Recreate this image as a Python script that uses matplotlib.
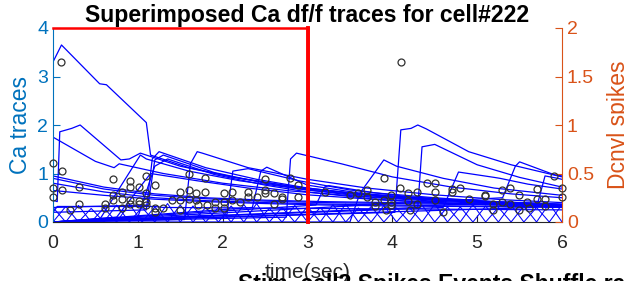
import matplotlib
matplotlib.use("Agg")
import matplotlib.pyplot as plt
import numpy as np

plt.rcParams['font.family'] = ['Liberation Sans', 'DejaVu Sans']

# ---------------- data ----------------
title_text = "Superimposed Ca df/f traces for cell#222"
next_title = "Stim_cell2 Spikes Events Shuffle raster"
x_ticks = [0, 1, 2, 3, 4, 5, 6]
left_ticks = [0, 1, 2, 3, 4]
right_ticks = [0, 0.5, 1, 1.5, 2]
right_tick_labels = ["0", "0.5", "1", "1.5", "2"]

# Ca traces (time in sec, df/f)
t_a = [0, 0.1, 0.55, 0.63, 1.1, 1.15, 1.6, 2.2, 3.0, 3.8, 4.6, 5.4, 6.0]
v_a = [3.3, 3.65, 2.85, 2.83, 2.05, 1.38, 1.12, 0.9, 0.68, 0.55, 0.46, 0.4, 0.36]
t_b = [0, 0.05, 0.08, 0.22, 0.32, 0.8, 0.9, 1.03, 1.5, 2.1, 2.8, 3.5, 4.3, 5.2, 6.0]
v_b = [0.45, 0.42, 1.86, 1.93, 2.0, 1.28, 1.3, 1.42, 1.15, 0.93, 0.74, 0.6, 0.5, 0.42, 0.37]
t_c = [0, 0.5, 0.72, 0.78, 1.3, 2.0, 2.8, 3.6, 4.4, 5.2, 6.0]
v_c = [1.75, 1.25, 1.12, 1.2, 1.0, 0.8, 0.64, 0.53, 0.46, 0.4, 0.35]
t_d = [0, 1.55, 1.62, 1.7, 1.76, 2.3, 2.45, 3.0, 3.7, 4.5, 5.3, 6.0]
v_d = [0.0, 0.05, 1.2, 1.45, 1.42, 1.12, 1.07, 0.88, 0.7, 0.56, 0.46, 0.4]
t_e = [0, 2.75, 2.8, 2.87, 3.4, 4.0, 4.7, 5.4, 6.0]
v_e = [0.0, 0.1, 1.3, 1.42, 1.2, 0.93, 0.72, 0.58, 0.5]
t_f = [0, 4.03, 4.1, 4.22, 4.3, 4.4, 4.9, 5.4, 6.0]
v_f = [0.0, 0.2, 1.9, 1.93, 2.0, 1.92, 1.45, 1.18, 0.93]
t_g = [0, 4.3, 4.35, 4.5, 5.0, 5.5, 6.0]
v_g = [0.0, 0.3, 1.55, 1.6, 1.18, 0.92, 0.72]
t_h = [0, 3.5, 3.62, 3.9, 4.05, 4.6, 5.2, 6.0]
v_h = [0.0, 0.0, 0.6, 1.28, 1.15, 0.9, 0.7, 0.55]
t_i = [0, 1.1, 1.17, 1.25, 1.8, 2.4, 3.0, 3.8, 4.6, 5.4, 6.0]
v_i = [0.2, 0.25, 1.3, 1.45, 1.12, 0.88, 0.7, 0.54, 0.44, 0.38, 0.34]
t_j = [0, 1.12, 1.2, 1.3, 1.9, 2.5, 3.0, 3.8, 4.6, 5.4, 6.0]
v_j = [0.3, 0.35, 1.28, 1.38, 1.02, 0.8, 0.66, 0.5, 0.42, 0.36, 0.32]
t_k = [0, 1.0, 1.2, 1.35, 1.9, 2.5, 3.0, 3.8, 4.6, 5.4, 6.0]
v_k = [0.0, 0.1, 1.15, 1.3, 0.98, 0.76, 0.62, 0.47, 0.39, 0.34, 0.3]
t_l = [0, 2.05, 2.12, 2.3, 2.9, 3.5, 4.2, 5.0, 6.0]
v_l = [0.0, 0.15, 1.05, 1.1, 0.85, 0.66, 0.52, 0.42, 0.35]
t_m = [0, 2.35, 2.45, 2.52, 3.0, 3.6, 4.3, 5.1, 6.0]
v_m = [0.0, 0.3, 1.05, 1.13, 0.76, 0.6, 0.48, 0.4, 0.34]
t_n = [0, 0.6, 1.2, 1.8, 2.5, 3.2, 4.0, 4.8, 5.5, 6.0]
v_n1 = [0.95, 0.72, 0.58, 0.5, 0.45, 0.42, 0.4, 0.38, 0.36, 0.35]
v_n2 = [0.9, 0.68, 0.55, 0.48, 0.43, 0.4, 0.38, 0.36, 0.35, 0.34]
v_n3 = [0.8, 0.62, 0.5, 0.44, 0.4, 0.37, 0.35, 0.33, 0.32, 0.31]
v_n4 = [0.65, 0.55, 0.47, 0.42, 0.38, 0.35, 0.33, 0.32, 0.31, 0.3]
t_o = [0, 0.05, 1.2, 1.3, 2.2, 3.0, 4.0, 5.0, 6.0]
v_o = [0.2, 0.32, 0.32, 0.3, 0.29, 0.28, 0.27, 0.26, 0.25]
t_p = [0, 4.6, 4.78, 5.2, 5.27, 5.6, 6.0]
v_p = [0.0, 0.3, 1.03, 0.92, 0.9, 0.78, 0.68]
t_q = [0, 5.3, 5.45, 5.5, 5.9, 6.0]
v_q = [0.0, 0.5, 1.15, 1.24, 0.98, 0.95]
t_r = [0, 5.7, 5.8, 5.95, 6.0]
v_r = [0.0, 0.3, 0.95, 0.9, 0.88]
t_s = [0, 3.1, 3.2, 3.25, 3.8, 4.5, 5.2, 6.0]
v_s = [0.0, 0.35, 0.72, 0.75, 0.6, 0.5, 0.42, 0.36]
t_u = [0, 0.55, 1.03, 1.1, 1.6, 2.2, 3.0, 3.8, 4.6, 5.4, 6.0]
v_u = [0.0, 0.05, 1.38, 1.3, 1.05, 0.85, 0.66, 0.53, 0.45, 0.39, 0.35]
t_w = [0, 0.75, 1.15, 1.7, 2.3, 3.0, 4.0, 5.0, 6.0]
v_w = [0.0, 0.1, 1.0, 0.85, 0.7, 0.56, 0.44, 0.37, 0.33]

# small zig-zag transients near baseline
zz_t = [0.0, 0.15, 0.3, 0.45, 0.6, 0.75, 0.9, 1.05, 1.2, 1.35,
        1.5, 1.65, 1.8, 1.95, 2.1, 2.25, 2.4, 2.55, 2.7, 2.85,
        3.0, 3.15, 3.3, 3.45, 3.6, 3.75, 3.9, 4.05, 4.2, 4.35,
        4.5, 4.65, 4.8, 4.95, 5.1, 5.25, 5.4, 5.55, 5.7, 5.85, 6.0]
zz1_v = [0, 0.32, 0, 0.28, 0, 0.35, 0, 0.3, 0, 0.38,
         0, 0.33, 0, 0.3, 0, 0.36, 0, 0.28, 0, 0.34,
         0, 0.3, 0, 0.37, 0, 0.32, 0, 0.29, 0, 0.35,
         0, 0.31, 0, 0.36, 0, 0.3, 0, 0.33, 0, 0.38, 0]
zz2_v = [0.3, 0, 0.34, 0, 0.29, 0, 0.37, 0, 0.31, 0,
         0.35, 0, 0.3, 0, 0.33, 0, 0.38, 0, 0.3, 0,
         0.32, 0, 0.36, 0, 0.29, 0, 0.34, 0, 0.3, 0,
         0.37, 0, 0.31, 0, 0.33, 0, 0.35, 0, 0.3, 0, 0.36]

# deconvolved spikes (right axis)
spk_t = [0.0, 0.1, 0.11, 0.0, 0.11, 0.0, 0.31, 0.2, 0.31, 0.71,
         0.61, 0.61, 0.71, 0.71, 0.81, 0.81, 0.81, 0.91, 0.91, 0.91,
         0.91, 1.01, 1.01, 1.01, 1.1, 1.1, 1.1, 1.1, 1.2, 1.2,
         1.2, 1.3, 1.4, 1.5, 1.5, 1.5, 1.6, 1.6, 1.6, 1.69,
         1.69, 1.71, 1.79, 1.79, 1.81, 1.91, 1.91, 2.01, 2.01, 2.01,
         2.11, 2.11, 2.2, 2.3, 2.3, 2.4, 2.5, 2.5, 2.5, 2.6,
         2.6, 2.7, 2.7, 2.79, 2.89, 2.89,
         3.21, 3.5, 3.6, 3.7, 3.7, 3.8, 3.8, 3.9, 3.9, 3.92,
         3.99, 3.99, 3.99, 4.1, 4.09, 4.19, 4.19, 4.21, 4.29, 4.29,
         4.41, 4.5, 4.5, 4.5, 4.6, 4.7, 4.7, 4.8, 4.9, 5.09,
         5.09, 5.19, 5.19, 5.29, 5.29, 5.39, 5.39, 5.49, 5.49, 5.59,
         5.61, 5.7, 5.7, 5.8, 5.8, 5.9, 6.0, 6.0]
spk_v = [0.605, 1.65, 0.53, 0.35, 0.33, 0.26, 0.36, 0.12, 0.185, 0.44,
         0.19, 0.14, 0.28, 0.23, 0.31, 0.24, 0.14, 0.42, 0.36, 0.23,
         0.19, 0.36, 0.22, 0.19, 0.47, 0.30, 0.21, 0.175, 0.38, 0.14,
         0.106, 0.14, 0.23, 0.31, 0.23, 0.12, 0.50, 0.33, 0.24, 0.30,
         0.23, 0.175, 0.45, 0.31, 0.175, 0.21, 0.14, 0.30, 0.21, 0.14,
         0.31, 0.23, 0.21, 0.31, 0.26, 0.26, 0.44, 0.33, 0.30, 0.30,
         0.19, 0.26, 0.24, 0.45, 0.38, 0.26,
         0.31, 0.28, 0.30, 0.33, 0.26, 0.21, 0.16, 0.45, 0.23, 0.12,
         0.28, 0.21, 0.175, 1.65, 0.35, 0.30, 0.22, 0.12, 0.31, 0.19,
         0.40, 0.40, 0.31, 0.23, 0.106, 0.31, 0.34, 0.35, 0.24, 0.28,
         0.27, 0.19, 0.12, 0.33, 0.21, 0.35, 0.19, 0.28, 0.12, 0.21,
         0.14, 0.34, 0.24, 0.24, 0.16, 0.47, 0.35, 0.26]

# stimulus window
win_t = [0, 3, 3]
win_v = [4, 4, 0]

traces = [(t_a, v_a), (t_b, v_b), (t_c, v_c), (t_d, v_d), (t_e, v_e),
          (t_f, v_f), (t_g, v_g), (t_h, v_h), (t_i, v_i), (t_j, v_j),
          (t_k, v_k), (t_l, v_l), (t_m, v_m), (t_n, v_n1), (t_n, v_n2),
          (t_n, v_n3), (t_n, v_n4), (t_o, v_o), (t_p, v_p), (t_q, v_q),
          (t_r, v_r), (t_s, v_s), (t_u, v_u), (t_w, v_w)]
zigzags = [(zz_t, zz1_v), (zz_t, zz2_v)]
for tt, vv in traces + zigzags:
    assert len(tt) == len(vv)
assert len(spk_t) == len(spk_v)

# ---------------- styling ----------------
BLUE_AX = '#0072BD'
ORANGE_AX = '#D95319'
DARK = '#262626'

fig = plt.figure(figsize=(6.24, 2.81), dpi=100)
ax = fig.add_axes([53/624, 59/281, 509/624, 194/281])

for tt, vv in traces:
    ax.plot(tt, vv, color='#0000FF', lw=0.9, zorder=2)
for tt, vv in zigzags:
    ax.plot(tt, vv, color='#0000FF', lw=0.75, zorder=2)
ax.plot(win_t, win_v, color='#FF0000', lw=1.8, zorder=4, clip_on=False,
        solid_joinstyle='miter')
ax.plot([3, 3], [0, 4], color='#FF0000', lw=2.8, zorder=4, clip_on=False)

ax.set_xlim(0, 6)
ax.set_ylim(0, 4)
ax.set_xticks(x_ticks)
ax.set_yticks(left_ticks)
ax.spines['top'].set_visible(False)
ax.spines['right'].set_visible(False)
ax.spines['left'].set_color(BLUE_AX)
ax.spines['bottom'].set_color(DARK)
ax.tick_params(axis='y', colors=BLUE_AX, direction='in', length=5, labelsize=14)
ax.tick_params(axis='x', colors=DARK, direction='in', length=5, labelsize=14,
               pad=9)
ax.set_ylabel("Ca traces", color=BLUE_AX, fontsize=16.5)
ax.yaxis.set_label_coords(-0.042, 0.5)
ax.set_xlabel("time(sec)", color=DARK, fontsize=15)
ax.xaxis.set_label_coords(0.5, -0.21)
ax.set_title(title_text, fontsize=16.6, fontweight='bold', color='black', pad=4)

ax2 = ax.twinx()
ax2.plot(spk_t, spk_v, linestyle='none', marker='o', markersize=5,
         markerfacecolor='none', markeredgecolor='#303030', markeredgewidth=0.9,
         clip_on=False, zorder=5)
ax2.set_ylim(0, 2)
ax2.set_yticks(right_ticks)
ax2.set_yticklabels(right_tick_labels)
ax2.spines['top'].set_visible(False)
ax2.spines['left'].set_visible(False)
ax2.spines['bottom'].set_visible(False)
ax2.spines['right'].set_color(ORANGE_AX)
ax2.tick_params(axis='y', colors=ORANGE_AX, direction='in', length=5, labelsize=14)
ax2.set_ylabel("Dcnvl spikes", color=ORANGE_AX, fontsize=16.5)
ax2.yaxis.set_label_coords(1.088, 0.5)

fig.text(238/624, 1 - 273.5/281, next_title, fontsize=16.6, fontweight='bold',
         color='black', ha='left', va='top')

fig.savefig("out.png", dpi=100)
